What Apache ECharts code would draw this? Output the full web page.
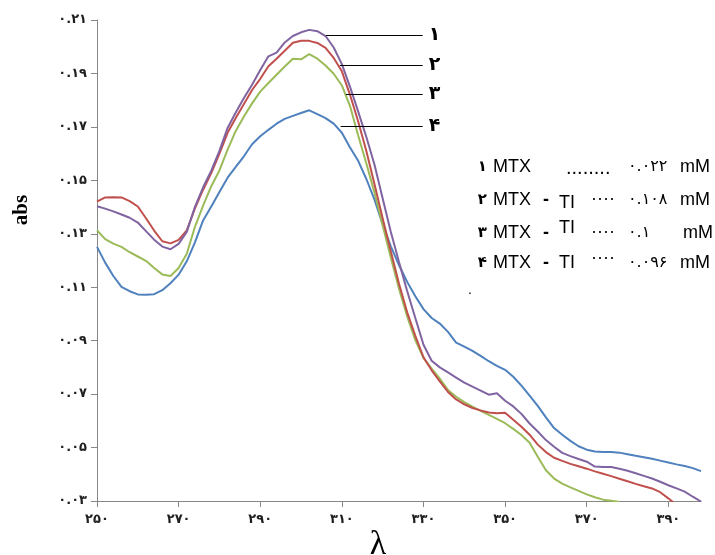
<!DOCTYPE html>
<html>
<head>
<meta charset="utf-8">
<script src="https://cdn.jsdelivr.net/npm/echarts@6/dist/echarts.min.js"></script>
<style>
  html, body { margin: 0; padding: 0; background: #fff; }
  #chart { width: 715px; height: 555px; }
</style>
</head>
<body>
<div id="chart"></div>
<script>
// wavelength (nm) and absorbance
const wavelength = [250, 252, 254, 256, 258, 260, 262, 264, 266, 268, 270, 272, 274, 276, 278, 280, 282, 284, 286, 288,
    290, 292, 294, 296, 298, 300, 302, 304, 306, 308, 310, 312, 314, 316, 318, 320, 322, 324, 326, 328,
    330, 332, 334, 336, 338, 340, 342, 344, 346, 348, 350, 352, 354, 356, 358, 360, 362, 364, 366, 368,
    370, 372, 374, 376, 378, 380, 382, 384, 386, 388, 390, 392, 394, 396, 398];

// 1 MTX
const abs1 = [0.1403, 0.1394, 0.1384, 0.1372, 0.1360, 0.1342, 0.1310, 0.1278, 0.1252, 0.1242, 0.1262, 0.1307, 0.1401, 0.1474, 0.1536, 0.1610, 0.1696, 0.1754, 0.1808, 0.1858,
    0.1913, 0.1964, 0.1978, 0.2016, 0.2040, 0.2054, 0.2063, 0.2058, 0.2040, 0.1997, 0.1935, 0.1850, 0.1757, 0.1662, 0.1558, 0.1432, 0.1307, 0.1194, 0.1086, 0.0985,
    0.0885, 0.0825, 0.0800, 0.0781, 0.0762, 0.0743, 0.0728, 0.0713, 0.0698, 0.0703, 0.0675, 0.0654, 0.0626, 0.0590, 0.0560, 0.0528, 0.0503, 0.0480, 0.0468, 0.0457,
    0.0447, 0.0429, 0.0427, 0.0427, 0.0421, 0.0413, 0.0404, 0.0394, 0.0384, 0.0372, 0.0359, 0.0347, 0.0335, 0.0316, 0.0298];

// 2 MTX - TI
const abs2 = [0.1420, 0.1436, 0.1437, 0.1436, 0.1422, 0.1402, 0.1358, 0.1312, 0.1272, 0.1264, 0.1277, 0.1313, 0.1395, 0.1465, 0.1527, 0.1600, 0.1678, 0.1733, 0.1786, 0.1838,
    0.1880, 0.1927, 0.1955, 0.1985, 0.2015, 0.2022, 0.2022, 0.2014, 0.1996, 0.1958, 0.1908, 0.1820, 0.1720, 0.1610, 0.1485, 0.1357, 0.1234, 0.1113, 0.1006, 0.0918,
    0.0838, 0.0789, 0.0748, 0.0708, 0.0680, 0.0662, 0.0648, 0.0639, 0.0631, 0.0628, 0.0630, 0.0604, 0.0578, 0.0548, 0.0511, 0.0483, 0.0462, 0.0450, 0.0439, 0.0430,
    0.0421, 0.0411, 0.0402, 0.0393, 0.0383, 0.0374, 0.0364, 0.0355, 0.0347, 0.0333, 0.0310, 0.0285, null, null, null];

// 3 MTX - TI
const abs3 = [0.1313, 0.1280, 0.1263, 0.1251, 0.1231, 0.1215, 0.1199, 0.1172, 0.1148, 0.1142, 0.1172, 0.1225, 0.1326, 0.1405, 0.1478, 0.1537, 0.1615, 0.1685, 0.1739, 0.1788,
    0.1832, 0.1864, 0.1895, 0.1926, 0.1955, 0.1953, 0.1972, 0.1955, 0.1930, 0.1899, 0.1855, 0.1778, 0.1668, 0.1563, 0.1454, 0.1331, 0.1210, 0.1094, 0.0991, 0.0902,
    0.0835, 0.0795, 0.0758, 0.0715, 0.0690, 0.0670, 0.0653, 0.0637, 0.0622, 0.0607, 0.0591, 0.0570, 0.0547, 0.0518, 0.0466, 0.0415, 0.0384, 0.0365, 0.0351, 0.0338,
    0.0325, 0.0314, 0.0305, 0.0301, 0.0296, null, null, null, null, null, null, null, null, null, null];

// 4 MTX - TI
const abs4 = [0.1251, 0.1192, 0.1142, 0.1101, 0.1085, 0.1073, 0.1072, 0.1074, 0.1089, 0.1115, 0.1147, 0.1197, 0.1268, 0.1350, 0.1402, 0.1456, 0.1510, 0.1550, 0.1590, 0.1635,
    0.1665, 0.1689, 0.1712, 0.1730, 0.1741, 0.1752, 0.1762, 0.1748, 0.1733, 0.1712, 0.1678, 0.1623, 0.1573, 0.1505, 0.1428, 0.1335, 0.1253, 0.1183, 0.1120, 0.1066,
    0.1018, 0.0985, 0.0964, 0.0933, 0.0893, 0.0878, 0.0862, 0.0843, 0.0823, 0.0806, 0.0791, 0.0765, 0.0732, 0.0694, 0.0656, 0.0613, 0.0573, 0.0548, 0.0525, 0.0505,
    0.0492, 0.0485, 0.0483, 0.0483, 0.0481, 0.0475, 0.0469, 0.0464, 0.0458, 0.0451, 0.0444, 0.0437, 0.0431, 0.0423, 0.0412];

const xTicks = [250, 270, 290, 310, 330, 350, 370, 390];

// leader lines: [x start, x end, y] and their labels
const leaders = [
    [306.1, 329.8, 0.2042],
    [309.5, 329.8, 0.1930],
    [311.0, 329.8, 0.1821],
    [309.7, 329.8, 0.1703]
];
const leaderLabels = ['۱', '۲', '۳', '۴'];

const legendConc = ['۰.۰۲۲', '۰.۱۰۸', '۰.۱', '۰.۰۹۶'];
const colors = ['#8064A2', '#C0504D', '#9BBB59', '#4F81BD'];

const fa = s => String(s).replace(/\d/g, d => '۰۱۲۳۴۵۶۷۸۹'[d]);

const chart = echarts.init(document.getElementById('chart'));

function makeSeries(values, i) {
    const l = leaders[i];
    return {
        type: 'line',
        data: wavelength.map((w, k) => [w, values[k]]).filter(p => p[1] !== null),
        showSymbol: false,
        symbol: 'none',
        lineStyle: { color: colors[i], width: 2 },
        itemStyle: { color: colors[i] },
        z: 4 - i,
        markLine: {
            silent: true,
            symbol: ['none', 'none'],
            lineStyle: { color: '#000', width: 1, type: 'solid' },
            label: {
                show: true,
                position: 'end',
                distance: 6,
                formatter: leaderLabels[i],
                color: '#000',
                fontSize: 19,
                fontWeight: 'bold',
                fontFamily: 'DejaVu Sans'
            },
            data: [[{ coord: [l[0], l[2]] }, { coord: [l[1], l[2]] }]]
        }
    };
}

// legend text block
const rowY = [167, 200, 233, 263];
const graphic = [];
rowY.forEach((y, i) => {
    graphic.push({ type: 'text', x: 487, y: y, style: { text: leaderLabels[i], font: 'bold 15px "DejaVu Sans"', fill: '#000', align: 'right', verticalAlign: 'middle' } });
    graphic.push({ type: 'text', x: 493, y: y, style: { text: 'MTX', font: '18px "Liberation Sans"', fill: '#000', align: 'left', verticalAlign: 'middle' } });
    if (i > 0) {
        graphic.push({ type: 'text', x: 543, y: y, style: { text: '-', font: 'bold 18px "Liberation Sans"', fill: '#000', align: 'left', verticalAlign: 'middle' } });
        const tiOff = [0, 3, -5, 0][i];
        graphic.push({ type: 'text', x: 559, y: y + tiOff, style: { text: 'TI', font: '18px "Liberation Sans"', fill: '#000', align: 'left', verticalAlign: 'middle' } });
        const dotOff = [0, -1, -1, -5][i];
        graphic.push({ type: 'text', x: 591, y: y + dotOff, style: { text: '····', font: '18px "Liberation Sans"', fill: '#000', align: 'left', verticalAlign: 'middle' } });
    } else {
        graphic.push({ type: 'text', x: 566, y: y + 1, style: { text: '........', font: '20px "Liberation Sans"', fill: '#000', align: 'left', verticalAlign: 'middle' } });
    }
    graphic.push({ type: 'text', x: 628, y: y, style: { text: legendConc[i], font: '16px "DejaVu Sans"', fill: '#000', align: 'left', verticalAlign: 'middle' } });
    graphic.push({ type: 'text', x: i === 2 ? 683 : 680, y: y, style: { text: 'mM', font: '18px "Liberation Sans"', fill: '#000', align: 'left', verticalAlign: 'middle' } });
});
graphic.push({ type: 'text', x: 470, y: 290, style: { text: '.', font: '14px "Liberation Sans"', fill: '#000', align: 'center', verticalAlign: 'middle' } });
graphic.push({ type: 'text', x: 22, y: 210, rotation: Math.PI / 2, style: { text: 'abs', font: 'bold 21px "Liberation Serif"', fill: '#000', align: 'center', verticalAlign: 'middle' } });
graphic.push({ type: 'text', x: 378, y: 528, style: { text: 'λ', font: '34px "Liberation Serif"', fill: '#000', align: 'center', verticalAlign: 'top' } });

chart.setOption({
    animation: false,
    backgroundColor: '#fff',
    grid: { left: 97, right: 14, top: 20, bottom: 54 },
    xAxis: {
        type: 'value',
        min: 250,
        max: 398,
        interval: 20,
        splitLine: { show: false },
        axisLine: { lineStyle: { color: '#868686', width: 1 } },
        axisTick: { show: true, length: 6, lineStyle: { color: '#868686' }, customValues: xTicks },
        axisLabel: {
            customValues: xTicks,
            margin: 12,
            color: '#1f1f1f',
            fontSize: 13,
            fontWeight: 'bold',
            fontFamily: 'DejaVu Sans',
            formatter: v => fa(v)
        }
    },
    yAxis: {
        type: 'value',
        min: 0.03,
        max: 0.21,
        interval: 0.02,
        splitLine: { show: false },
        axisLine: { show: true, lineStyle: { color: '#868686', width: 1 } },
        axisTick: { show: true, length: 6, lineStyle: { color: '#868686' } },
        axisLabel: {
            margin: 10,
            color: '#1f1f1f',
            fontSize: 13,
            fontWeight: 'bold',
            fontFamily: 'DejaVu Sans',
            formatter: v => fa(v.toFixed(2))
        }
    },
    series: [abs1, abs2, abs3, abs4].map(makeSeries),
    graphic: graphic
});

window.addEventListener('resize', () => chart.resize());
</script>
</body>
</html>
